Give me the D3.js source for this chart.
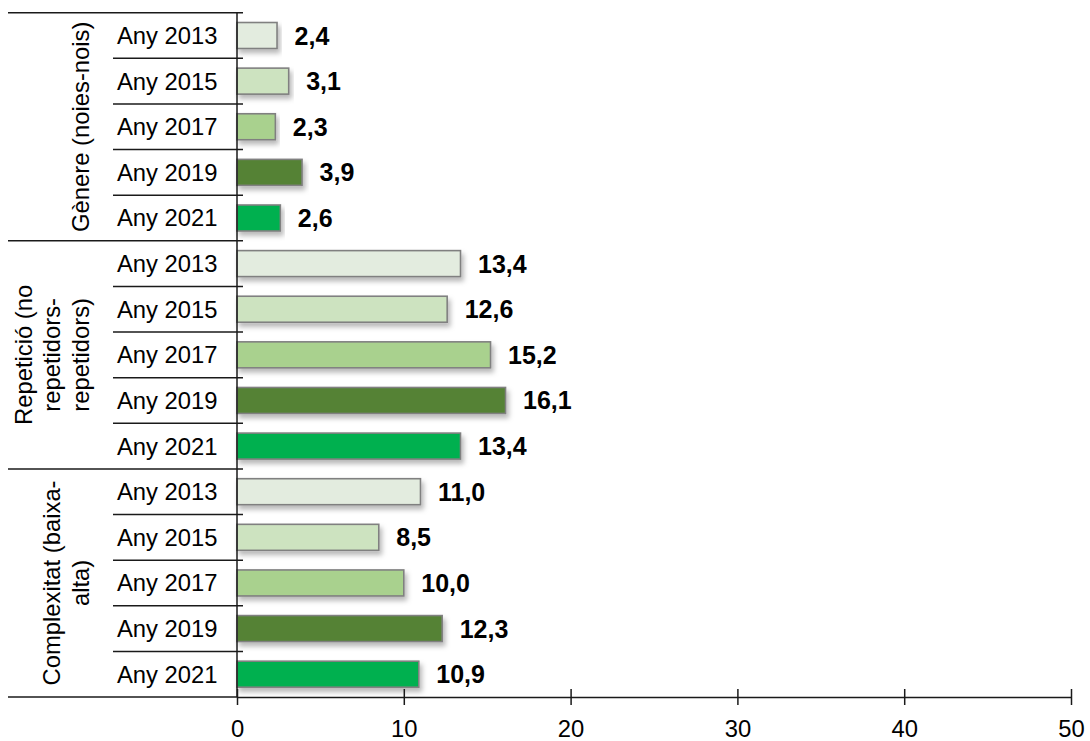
<!DOCTYPE html>
<html>
<head>
<meta charset="utf-8">
<script src="https://cdn.jsdelivr.net/npm/d3@7"></script>
<style>
  html, body { margin: 0; padding: 0; background: #fff; }
  svg { display: block; font-family: "Liberation Sans", Arial, sans-serif; }
</style>
</head>
<body>
<svg id="chart" width="1090" height="741"></svg>
<script>
// ---- Data ----
const groups = ["Gènere", "Repetició", "Complexitat"];
const groupLabelLines = [
  ["Gènere (noies-nois)"],
  ["Repetició (no", "repetidors-", "repetidors)"],
  ["Complexitat (baixa-", "alta)"]
];
const years = ["Any 2013", "Any 2015", "Any 2017", "Any 2019", "Any 2021"];
const genereValues = [2.4, 3.1, 2.3, 3.9, 2.6];
const repeticioValues = [13.4, 12.6, 15.2, 16.1, 13.4];
const complexitatValues = [11.0, 8.5, 10.0, 12.3, 10.9];
const xTicks = [0, 10, 20, 30, 40, 50];
const yearColors = ["#e3ecdf", "#cde3c0", "#a9d18e", "#548235", "#00b050"];

const allValues = [genereValues, repeticioValues, complexitatValues];
const rows = [];
groups.forEach((g, gi) => {
  years.forEach((y, yi) => {
    rows.push({ key: g + "|" + y, group: g, gi, year: y, yi, value: allValues[gi][yi] });
  });
});

// ---- Layout ----
const svg = d3.select("#chart");
const plotLeft = 237, plotRight = 1071;
const plotTop = 12.7, plotBottom = 697;
const fontSize = 23.8;

const x = d3.scaleLinear().domain([0, 50]).range([plotLeft, plotRight]);
const y = d3.scaleBand().domain(rows.map(r => r.key)).range([plotTop, plotBottom]).padding(0);
const bw = y.bandwidth();
const barH = bw * 0.57;

// shadow filter
const defs = svg.append("defs");
const f = defs.append("filter").attr("id", "shadow")
  .attr("x", "-5%").attr("y", "-30%").attr("width", "115%").attr("height", "180%");
f.append("feDropShadow").attr("dx", 2.5).attr("dy", 4).attr("stdDeviation", 2.4)
  .attr("flood-color", "#000").attr("flood-opacity", 0.28);

// bars
svg.append("g").selectAll("rect").data(rows).join("rect")
  .attr("x", x(0))
  .attr("y", d => y(d.key) + (bw - barH) / 2)
  .attr("width", d => x(d.value) - x(0))
  .attr("height", barH)
  .attr("fill", d => yearColors[d.yi])
  .attr("stroke", "#808080")
  .attr("stroke-width", 1.6)
  .attr("filter", "url(#shadow)");

// value labels
const fmt = d3.format(".1f");
svg.append("g").selectAll("text").data(rows).join("text")
  .attr("x", d => x(d.value) + 17.5)
  .attr("y", d => y(d.key) + bw / 2)
  .attr("dominant-baseline", "central")
  .attr("font-size", 25)
  .attr("font-weight", "bold")
  .attr("fill", "#000")
  .text(d => fmt(d.value).replace(".", ","));

// year labels
svg.append("g").selectAll("text").data(rows).join("text")
  .attr("x", 117)
  .attr("y", d => y(d.key) + bw / 2)
  .attr("dominant-baseline", "central")
  .attr("font-size", fontSize)
  .attr("fill", "#000")
  .text(d => d.year);

// separator lines
const lineColor = "#1a1a1a";
const sep = svg.append("g").attr("stroke", lineColor).attr("stroke-width", 1.5);
rows.forEach((r, i) => {
  const yy = y(r.key);
  if (r.yi === 0) {
    sep.append("line").attr("x1", 8).attr("x2", x(0) + 6).attr("y1", yy).attr("y2", yy);
  } else {
    sep.append("line").attr("x1", 113).attr("x2", x(0) + 6).attr("y1", yy).attr("y2", yy);
  }
});
// bottom group line
sep.append("line").attr("x1", 8).attr("x2", x(0)).attr("y1", plotBottom).attr("y2", plotBottom);
// vertical axis line
sep.append("line").attr("x1", x(0)).attr("x2", x(0)).attr("y1", plotTop).attr("y2", plotBottom);

// group labels (rotated)
groups.forEach((g, gi) => {
  const gRows = rows.filter(r => r.gi === gi);
  const cy = (y(gRows[0].key) + y(gRows[gRows.length - 1].key) + bw) / 2;
  const lines = groupLabelLines[gi];
  const n = lines.length;
  lines.forEach((ln, li) => {
    const cx = 80 - (n - 1 - li) * 28.2;
    svg.append("text")
      .attr("transform", `translate(${cx},${cy}) rotate(-90)`)
      .attr("text-anchor", "middle")
      .attr("dominant-baseline", "central")
      .attr("font-size", fontSize)
      .attr("fill", "#000")
      .text(ln);
  });
});

// x axis
const xAxis = d3.axisBottom(x).tickValues(xTicks).tickSize(8).tickSizeOuter(0).tickFormat(d3.format("d"));
const ax = svg.append("g").attr("transform", `translate(0,${plotBottom})`).call(xAxis);
ax.select(".domain").attr("stroke", lineColor).attr("stroke-width", 1.5);
ax.selectAll(".tick line").attr("y1", -8).attr("y2", 8).attr("stroke", lineColor).attr("stroke-width", 1.5);
ax.selectAll(".tick text")
  .attr("y", 31.5).attr("dy", 0)
  .attr("dominant-baseline", "central")
  .attr("font-size", fontSize)
  .attr("font-family", "Liberation Sans, Arial, sans-serif")
  .attr("fill", "#000");
</script>
</body>
</html>
